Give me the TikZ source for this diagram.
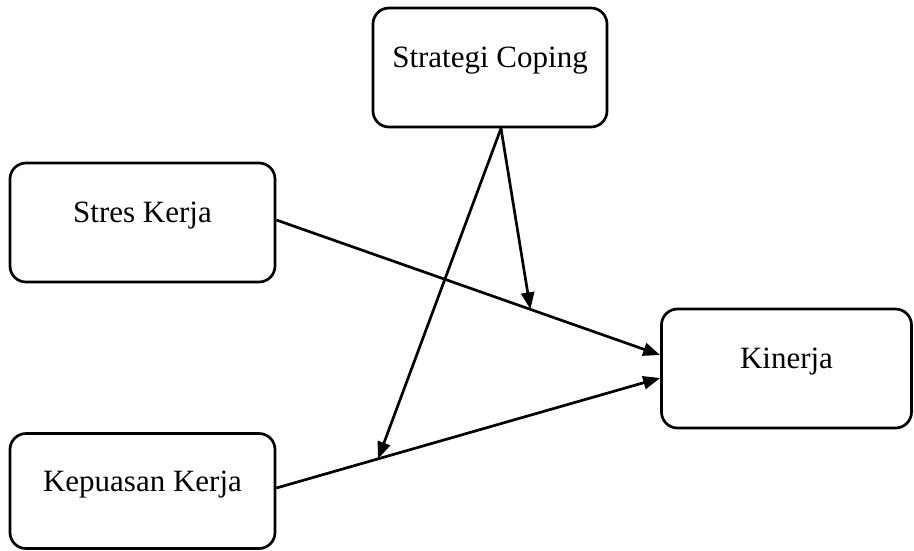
\documentclass[tikz,border=0pt]{standalone}
\usepackage{fontspec}
\setmainfont{Liberation Serif}
\usetikzlibrary{arrows.meta,calc}
\begin{document}
\begin{tikzpicture}[x=1pt,y=-1pt,
  box/.style={draw,line width=2.7pt,rounded corners=16pt,inner sep=0pt,
    font=\fontsize{31}{37}\selectfont,text height=19pt,text depth=19pt},
  conn/.style={line width=2.7pt,-{Triangle[length=17pt,width=13pt]}}]
\useasboundingbox (0,0) rectangle (914,550);
\node[box,minimum width=234pt,minimum height=119pt] (sc) at (490,67.5) {Strategi Coping};
\node[box,minimum width=265pt,minimum height=119pt] (sk) at (142.5,222.5) {Stres Kerja};
\node[box,minimum width=265pt,minimum height=115pt] (kk) at (142.5,491) {Kepuasan Kerja};
\node[box,minimum width=250pt,minimum height=119pt] (kin) at (786.5,368.5) {Kinerja};
\coordinate (skout) at (sk.east |- 0,220);
\coordinate (kinin1) at (kin.west |- 0,355);
\coordinate (kkout) at (kk.east |- 0,488);
\coordinate (kinin2) at (kin.west |- 0,378);
\coordinate (scout) at (sc.south -| 501,0);
\coordinate (m1) at ($(skout)!0.662!(kinin1)$);
\coordinate (m2) at ($(kkout)!0.265!(kinin2)$);
\draw[conn] (skout) -- (kinin1);
\draw[conn] (kkout) -- (kinin2);
\draw[conn] (scout) -- (m1);
\draw[conn] (scout) -- (m2);
\end{tikzpicture}
\end{document}
